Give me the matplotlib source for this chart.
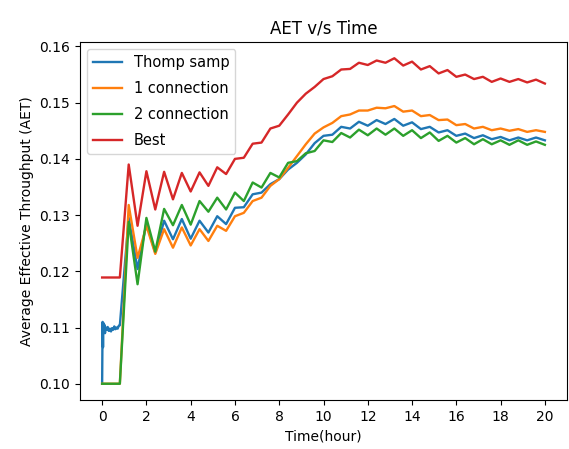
import numpy as np
from matplotlib import pyplot as plt

# time axis: one sample every 0.4 hour
hours = np.arange(51) * 0.4

# Thomp samp: finer samples during the first 0.8 hour
thomp_early_t = [0, 0.02, 0.04, 0.06, 0.08, 0.1, 0.13, 0.16, 0.2, 0.25, 0.3,
                 0.35, 0.4, 0.45, 0.5, 0.55, 0.6, 0.65, 0.7, 0.75, 0.8]
thomp_early = [0.1000, 0.1110, 0.1065, 0.1108, 0.1092, 0.1105, 0.1090, 0.1100,
               0.1096, 0.1101, 0.1094, 0.1098, 0.1093, 0.1099, 0.1096, 0.1102,
               0.1097, 0.1100, 0.1098, 0.1103, 0.1104]
thomp_rest = [0.1295, 0.1204, 0.1286, 0.1233, 0.1290, 0.1257, 0.1293, 0.1258,
              0.1290, 0.1269, 0.1298, 0.1284, 0.1313, 0.1314, 0.1337, 0.1340,
              0.1355, 0.1364, 0.1381, 0.1393, 0.1408, 0.1428, 0.1441, 0.1443,
              0.1457, 0.1454, 0.1466, 0.1459, 0.1469, 0.1462, 0.1471, 0.1459,
              0.1465, 0.1453, 0.1457, 0.1447, 0.1451, 0.1441, 0.1445, 0.1437,
              0.1442, 0.1435, 0.1439, 0.1433, 0.1438, 0.1433, 0.1438, 0.1433]

conn1 = [0.1000, 0.1000, 0.1000, 0.1318, 0.1224, 0.1281, 0.1231, 0.1275,
         0.1242, 0.1278, 0.1246, 0.1275, 0.1254, 0.1281, 0.1272, 0.1298,
         0.1304, 0.1325, 0.1331, 0.1352, 0.1364, 0.1384, 0.1405, 0.1426,
         0.1445, 0.1456, 0.1464, 0.1476, 0.1479, 0.1486, 0.1486, 0.1491,
         0.1490, 0.1494, 0.1484, 0.1486, 0.1476, 0.1478, 0.1469, 0.1470,
         0.1460, 0.1462, 0.1454, 0.1457, 0.1451, 0.1454, 0.1450, 0.1453,
         0.1448, 0.1451, 0.1448]

conn2 = [0.1000, 0.1000, 0.1000, 0.1288, 0.1177, 0.1295, 0.1235, 0.1311,
         0.1282, 0.1318, 0.1283, 0.1325, 0.1306, 0.1331, 0.1310, 0.1340,
         0.1325, 0.1358, 0.1349, 0.1375, 0.1367, 0.1393, 0.1396, 0.1410,
         0.1414, 0.1433, 0.1430, 0.1446, 0.1438, 0.1452, 0.1442, 0.1454,
         0.1443, 0.1454, 0.1441, 0.1451, 0.1437, 0.1447, 0.1432, 0.1441,
         0.1429, 0.1437, 0.1426, 0.1435, 0.1426, 0.1433, 0.1425, 0.1433,
         0.1425, 0.1431, 0.1425]

best = [0.1189, 0.1189, 0.1189, 0.1390, 0.1281, 0.1378, 0.1310, 0.1377,
        0.1328, 0.1375, 0.1342, 0.1376, 0.1352, 0.1385, 0.1373, 0.1400,
        0.1402, 0.1427, 0.1429, 0.1454, 0.1459, 0.1479, 0.1500, 0.1516,
        0.1528, 0.1542, 0.1547, 0.1559, 0.1560, 0.1571, 0.1567, 0.1575,
        0.1571, 0.1579, 0.1566, 0.1573, 0.1559, 0.1565, 0.1552, 0.1558,
        0.1546, 0.1550, 0.1542, 0.1546, 0.1537, 0.1543, 0.1537, 0.1542,
        0.1536, 0.1541, 0.1534]

thomp_t = list(thomp_early_t) + list(hours[3:])
thomp = thomp_early + thomp_rest

fig = plt.figure(figsize=(5.69, 4.49), dpi=100)
ax = fig.add_subplot(111)
fig.subplots_adjust(left=0.1406, right=0.9965, bottom=0.1091, top=0.9065)

ax.plot(thomp_t, thomp, label='Thomp samp', lw=1.7)
ax.plot(hours, conn1, label='1 connection', lw=1.7)
ax.plot(hours, conn2, label='2 connection', lw=1.7)
ax.plot(hours, best, label='Best', lw=1.7)

ax.set_title('AET v/s Time')
ax.set_xlabel('Time(hour)')
ax.set_ylabel('Average Effective Throughput (AET)')
ax.set_xticks(np.arange(0, 21, 2))
ax.legend(loc='upper left', fontsize=10.5, labelspacing=0.75)

fig.savefig('out.png', dpi=100)
